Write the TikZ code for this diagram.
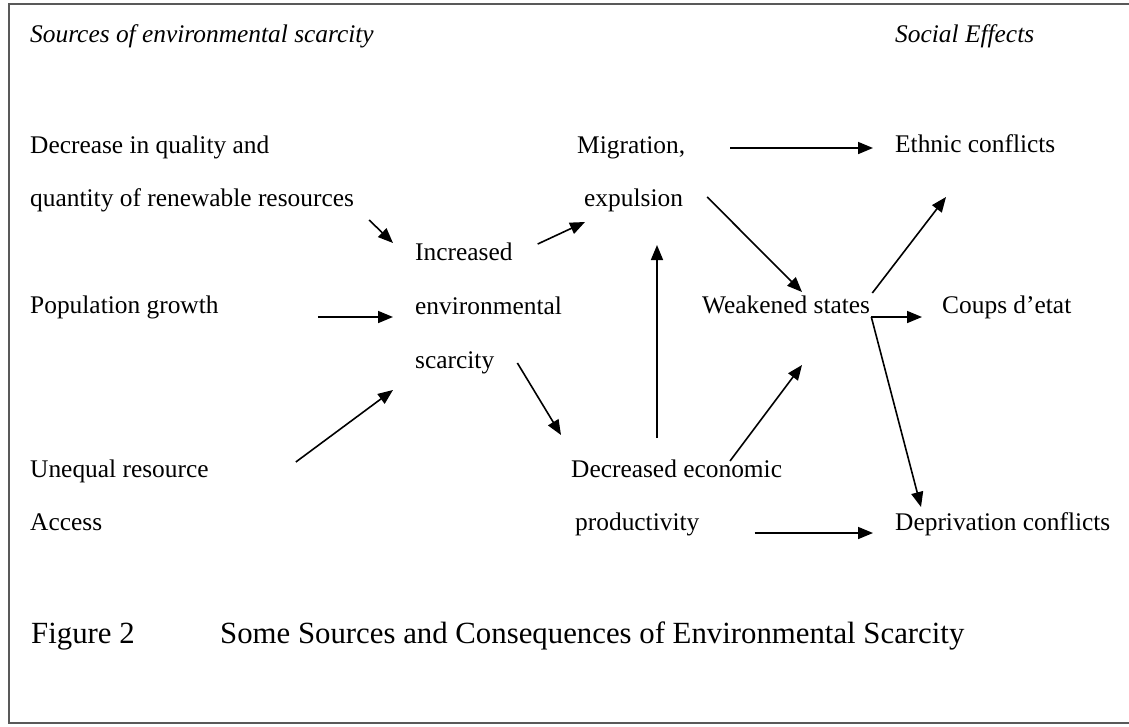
\documentclass[tikz,border=0pt]{standalone}
\usepackage{fontspec}
\setmainfont{Liberation Serif}
\usetikzlibrary{arrows.meta}

\begin{document}
\begin{tikzpicture}[x=1pt, y=-1pt,
    txt/.style={anchor=base west, inner sep=0pt, font=\fontsize{25.4}{30}\selectfont},
    head/.style={txt, font=\fontsize{25.4}{30}\selectfont\itshape},
    capt/.style={txt, font=\fontsize{30.8}{36}\selectfont},
    arr/.style={line width=1.6pt, -{Triangle[length=15pt,width=12pt]}}]
    \useasboundingbox (0,0) rectangle (1129,726);
    \draw[line width=2pt, black!65] (1129,4) -- (9,4) -- (9,723) -- (1129,723);

    \node[head] at (30,42) (H1) {Sources of environmental scarcity};
    \node[head] at (895,42) (H2) {Social Effects};

    \node[txt] at (30,153) (Q1) {Decrease in quality and};
    \node[txt] at (30,206) (Q2) {quantity of renewable resources};
    \node[txt] at (30,313) (PG) {Population growth};
    \node[txt] at (30,477) (UR1) {Unequal resource};
    \node[txt] at (30,530) (UR2) {Access};

    \node[txt] at (415,260) (IE1) {Increased};
    \node[txt] at (415,314) (IE2) {environmental};
    \node[txt] at (415,368) (IE3) {scarcity};

    \node[txt] at (577,153) (MG1) {Migration,};
    \node[txt] at (584,206) (MG2) {expulsion};
    \node[txt] at (702,313) (WS) {Weakened states};
    \node[txt] at (571,477) (DE1) {Decreased economic};
    \node[txt] at (575,530) (DE2) {productivity};

    \node[txt] at (895,152) (EC) {Ethnic conflicts};
    \node[txt] at (942,313) (CE) {Coups d’etat};
    \node[txt] at (895,530) (DC) {Deprivation conflicts};

    \node[capt] at (31,643) (FG) {Figure 2};
    \node[capt] at (220,643) (CAP) {Some Sources and Consequences of Environmental Scarcity};

    \path [arr] ([shift={(15,14)}]Q2.base east) edge ([shift={(-22,-17)}]IE1.base west);
    \path [arr] ([shift={(99,4)}]PG.base east) edge ([shift={(-22,3)}]IE2.base west);
    \path [arr] ([shift={(87,-15)}]UR1.base east) edge ([shift={(-22,22)}]IE3.base west);
    \path [arr] ([shift={(25,-16)}]IE1.base east) edge ([shift={(1,16)}]MG2.base west);
    \path [arr] ([shift={(45,-5)}]MG1.base east) edge ([shift={(-22,-4)}]EC.base west);
    \path [arr] ([shift={(24,-9)}]MG2.base east) edge ([shift={(100,-21)}]WS.base west);
    \path [arr] ([shift={(86,-39)}]DE1.base west) edge ([shift={(73,39)}]MG2.base west);
    \path [arr] ([shift={(23,-5)}]IE3.base east) edge ([shift={(-10,-42)}]DE1.base west);
    \path [arr] ([shift={(159,-16)}]DE1.base west) edge ([shift={(100,52)}]WS.base west);
    \path [arr] ([shift={(2,-20)}]WS.base east) edge ([shift={(51,45)}]EC.base west);
    \path [arr] ([shift={(1,4)}]WS.base east) edge ([shift={(-20,4)}]CE.base west);
    \path [arr] ([shift={(1,4)}]WS.base east) edge ([shift={(26,-23)}]DC.base west);
    \path [arr] ([shift={(55,3)}]DE2.base east) edge ([shift={(-22,3)}]DC.base west);
\end{tikzpicture}
\end{document}
